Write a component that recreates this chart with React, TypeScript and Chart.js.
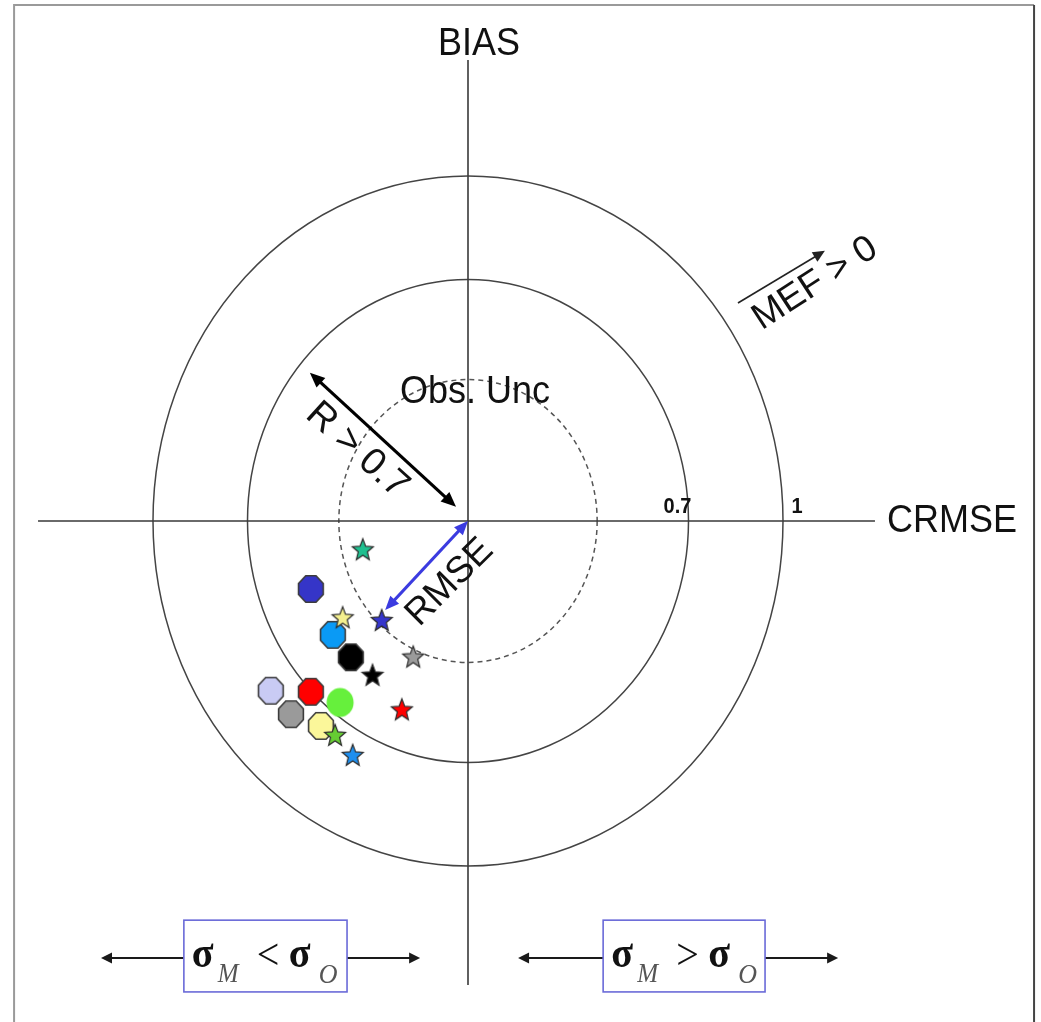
import React, { useEffect, useRef } from "react";
import { Chart, registerables } from "chart.js";

Chart.register(...registerables);

// Normalised target diagram: x = CRMSE (signed by sigma_M - sigma_O), y = BIAS
const octagonCrmse = [-0.499, -0.429, -0.372, -0.626, -0.499, -0.562, -0.467];
const octagonBias = [-0.197, -0.33, -0.395, -0.492, -0.495, -0.56, -0.594];

const discCrmse = [-0.406];
const discBias = [-0.526];

const starCrmse = [-0.334, -0.398, -0.274, -0.174, -0.303, -0.21, -0.422, -0.366];
const starBias = [-0.082, -0.279, -0.287, -0.393, -0.446, -0.546, -0.62, -0.678];

const ringRadii = [0.7, 1];
const ringLabels = ["0.7", "1"];
const obsUncRadius = 0.41;

// Marker colours
const octagonFills = ["#3535c8", "#0a9af5", "#000000", "#c9cbf4", "#ff0000", "#9a9a9a", "#fbf79a"];
const discFills = ["#66f03c"];
const starFills = ["#1fbf8f", "#f4ef8e", "#3636cc", "#9b9b9b", "#000000", "#ff0000", "#66cc33", "#1e8fef"];

const W = 1041;
const H = 1022;
const ORIGIN_X = 468;
const ORIGIN_Y = 521;
const UNIT_X = 315;
const UNIT_Y = 345;

const SANS = "'Liberation Sans', Arial, sans-serif";
const SERIF = "'Liberation Serif', 'Times New Roman', serif";

function makeSprite(w: number, h: number, draw: (g: CanvasRenderingContext2D, cx: number, cy: number) => void) {
  const c = document.createElement("canvas");
  c.width = w;
  c.height = h;
  const g = c.getContext("2d") as CanvasRenderingContext2D;
  draw(g, w / 2, h / 2);
  return c;
}

function octagonSprite(fill: string) {
  return makeSprite(32, 34, (g, cx, cy) => {
    const rx = 13.4;
    const ry = 14.4;
    g.beginPath();
    for (let k = 0; k < 8; k++) {
      const a = Math.PI / 8 + (k * Math.PI) / 4;
      const px = cx + rx * Math.cos(a);
      const py = cy + ry * Math.sin(a);
      if (k === 0) g.moveTo(px, py);
      else g.lineTo(px, py);
    }
    g.closePath();
    g.fillStyle = fill;
    g.fill();
    g.lineWidth = 1.6;
    g.strokeStyle = "#3c3c3c";
    g.stroke();
  });
}

function discSprite(fill: string) {
  return makeSprite(32, 34, (g, cx, cy) => {
    g.beginPath();
    g.ellipse(cx, cy, 13.5, 14.5, 0, 0, Math.PI * 2);
    g.fillStyle = fill;
    g.fill();
  });
}

function starSprite(fill: string) {
  return makeSprite(28, 28, (g, cx, cy) => {
    const R = 11;
    const r = 4.8;
    g.beginPath();
    for (let k = 0; k < 10; k++) {
      const a = -Math.PI / 2 + (k * Math.PI) / 5;
      const rad = k % 2 === 0 ? R : r;
      const px = cx + rad * Math.cos(a);
      const py = cy + 1 + rad * 1.05 * Math.sin(a);
      if (k === 0) g.moveTo(px, py);
      else g.lineTo(px, py);
    }
    g.closePath();
    g.fillStyle = fill;
    g.fill();
    g.lineWidth = 1.2;
    g.lineJoin = "miter";
    g.strokeStyle = "#2a2a2a";
    g.stroke();
  });
}

function drawLabel(
  ctx: CanvasRenderingContext2D,
  text: string,
  x: number,
  y: number,
  font: string,
  opts: { align?: CanvasTextAlign; baseline?: CanvasTextBaseline; angle?: number; stretch?: number; color?: string } = {}
) {
  const { align = "center", baseline = "middle", angle = 0, stretch = 1.09, color = "#111" } = opts;
  ctx.save();
  ctx.translate(x, y);
  ctx.rotate((angle * Math.PI) / 180);
  ctx.scale(1, stretch);
  ctx.font = font;
  ctx.textAlign = align;
  ctx.textBaseline = baseline;
  ctx.fillStyle = color;
  ctx.fillText(text, 0, 0);
  ctx.restore();
}

function arrowHead(ctx: CanvasRenderingContext2D, fx: number, fy: number, tx: number, ty: number, len: number, half: number) {
  const a = Math.atan2(ty - fy, tx - fx);
  const bx = tx - len * Math.cos(a);
  const by = ty - len * Math.sin(a);
  ctx.beginPath();
  ctx.moveTo(tx, ty);
  ctx.lineTo(bx + half * Math.sin(a), by - half * Math.cos(a));
  ctx.lineTo(bx - half * Math.sin(a), by + half * Math.cos(a));
  ctx.closePath();
  ctx.fill();
}

function drawArrow(
  ctx: CanvasRenderingContext2D,
  x1: number,
  y1: number,
  x2: number,
  y2: number,
  o: { width: number; color: string; both: boolean; len: number; half: number }
) {
  const a = Math.atan2(y2 - y1, x2 - x1);
  const sx = o.both ? x1 + (o.len - 2) * Math.cos(a) : x1;
  const sy = o.both ? y1 + (o.len - 2) * Math.sin(a) : y1;
  const ex = x2 - (o.len - 2) * Math.cos(a);
  const ey = y2 - (o.len - 2) * Math.sin(a);
  ctx.save();
  ctx.strokeStyle = o.color;
  ctx.fillStyle = o.color;
  ctx.lineWidth = o.width;
  ctx.beginPath();
  ctx.moveTo(sx, sy);
  ctx.lineTo(ex, ey);
  ctx.stroke();
  arrowHead(ctx, x1, y1, x2, y2, o.len, o.half);
  if (o.both) arrowHead(ctx, x2, y2, x1, y1, o.len, o.half);
  ctx.restore();
}

function sigmaBox(
  ctx: CanvasRenderingContext2D,
  left: number,
  right: number,
  top: number,
  bottom: number,
  tipL: number,
  tipR: number,
  arrowY: number,
  relation: string
) {
  const head = { width: 2, color: "#1a1a1a", both: false, len: 11, half: 5.5 };
  drawArrow(ctx, left, arrowY, tipL, arrowY, head);
  drawArrow(ctx, right, arrowY, tipR, arrowY, head);
  ctx.save();
  ctx.fillStyle = "#ffffff";
  ctx.fillRect(left, top, right - left, bottom - top);
  ctx.strokeStyle = "#6a6ad8";
  ctx.lineWidth = 1.6;
  ctx.strokeRect(left, top, right - left, bottom - top);
  ctx.restore();
  const base = top + 47;
  drawLabel(ctx, "\u03c3", left + 8, base, `bold 40px ${SERIF}`, { align: "left", baseline: "alphabetic" });
  drawLabel(ctx, "M", left + 34, base + 15, `italic 25px ${SERIF}`, { align: "left", baseline: "alphabetic", color: "#555" });
  drawLabel(ctx, relation, left + 73, base + 2, `40px ${SERIF}`, { align: "left", baseline: "alphabetic" });
  drawLabel(ctx, "\u03c3", left + 105, base, `bold 40px ${SERIF}`, { align: "left", baseline: "alphabetic" });
  drawLabel(ctx, "O", left + 135, base + 16, `italic 26px ${SERIF}`, { align: "left", baseline: "alphabetic", color: "#555" });
}

const targetPlugin = {
  id: "targetDiagram",
  beforeDraw(chart: any) {
    const { ctx } = chart;
    ctx.save();
    ctx.fillStyle = "#ffffff";
    ctx.fillRect(0, 0, chart.width, chart.height);
    ctx.restore();
  },
  beforeDatasetsDraw(chart: any) {
    const { ctx } = chart;
    const xs = chart.scales.x;
    const ys = chart.scales.y;
    const px = (v: number) => xs.getPixelForValue(v);
    const py = (v: number) => ys.getPixelForValue(v);
    const cx = px(0);
    const cy = py(0);

    ctx.save();
    // figure frame
    ctx.lineWidth = 2;
    ctx.strokeStyle = "#9a9a9a";
    ctx.beginPath();
    ctx.moveTo(px(-1.441), py(-1.6));
    ctx.lineTo(px(-1.441), py(1.496));
    ctx.lineTo(px(1.797), py(1.496));
    ctx.stroke();
    ctx.strokeStyle = "#444";
    ctx.beginPath();
    ctx.moveTo(px(1.797), py(1.496));
    ctx.lineTo(px(1.797), py(-1.6));
    ctx.stroke();

    // solid rings
    ctx.strokeStyle = "#444";
    ctx.lineWidth = 1.5;
    ringRadii.forEach((r) => {
      ctx.beginPath();
      ctx.ellipse(cx, cy, px(r) - cx, cy - py(r), 0, 0, Math.PI * 2);
      ctx.stroke();
    });

    // observation uncertainty ring
    ctx.setLineDash([5, 4]);
    ctx.strokeStyle = "#555";
    ctx.beginPath();
    ctx.ellipse(cx, cy, px(obsUncRadius) - cx, cy - py(obsUncRadius), 0, 0, Math.PI * 2);
    ctx.stroke();
    ctx.setLineDash([]);

    // axes
    ctx.strokeStyle = "#3a3a3a";
    ctx.lineWidth = 1.6;
    ctx.beginPath();
    ctx.moveTo(px(-1.365), cy);
    ctx.lineTo(px(1.292), cy);
    ctx.moveTo(cx, py(1.336));
    ctx.lineTo(cx, py(-1.345));
    ctx.stroke();
    ctx.restore();

    // axis titles and ring labels
    drawLabel(ctx, "BIAS", px(0.035), py(1.383), `36px ${SANS}`);
    drawLabel(ctx, "CRMSE", px(1.33), cy, `36px ${SANS}`, { align: "left" });
    drawLabel(ctx, "Obs. Unc", px(0.022), py(0.374), `36px ${SANS}`);
    ringLabels.forEach((t, i) => {
      const offset = i === 0 ? -11 : 14;
      drawLabel(ctx, t, px(ringRadii[i]) + offset, cy - 8, `bold 20px ${SANS}`, { baseline: "alphabetic" });
    });

    // spread annotations
    sigmaBox(ctx, px(-0.902), px(-0.384), py(-1.157), py(-1.365), px(-1.165), px(-0.152), py(-1.267), "<");
    sigmaBox(ctx, px(0.429), px(0.943), py(-1.157), py(-1.365), px(0.159), px(1.175), py(-1.267), ">");
  },
  afterDatasetsDraw(chart: any) {
    const { ctx } = chart;
    const xs = chart.scales.x;
    const ys = chart.scales.y;
    const px = (v: number) => xs.getPixelForValue(v);
    const py = (v: number) => ys.getPixelForValue(v);

    // correlation arrow
    drawArrow(ctx, px(-0.038), py(0.041), px(-0.502), py(0.43), { width: 3.2, color: "#000", both: true, len: 15, half: 6.5 });
    drawLabel(ctx, "R > 0.7", px(-0.352), py(0.205), `38px ${SANS}`, { angle: 42, stretch: 1 });

    // RMSE arrow
    drawArrow(ctx, px(0), py(0), px(-0.263), py(-0.258), { width: 3.2, color: "#3b3be0", both: true, len: 14, half: 6 });
    drawLabel(ctx, "RMSE", px(-0.058), py(-0.178), `37px ${SANS}`, { angle: -45, stretch: 1 });

    // model efficiency arrow
    drawArrow(ctx, px(0.857), py(0.632), px(1.133), py(0.783), { width: 1.6, color: "#222", both: false, len: 12, half: 5.5 });
    drawLabel(ctx, "MEF > 0", px(1.102), py(0.688), `37px ${SANS}`, { angle: -33, stretch: 1 });
  },
};

export default function App() {
  const ref = useRef<HTMLCanvasElement>(null);

  useEffect(() => {
    if (!ref.current) return;
    const octSprites = octagonFills.map(octagonSprite);
    const discSprites = discFills.map(discSprite);
    const starSprites = starFills.map(starSprite);

    const chart = new Chart(ref.current, {
      type: "scatter",
      data: {
        datasets: [
          {
            label: "stars",
            data: starCrmse.map((v, i) => ({ x: v, y: starBias[i] })),
            pointStyle: (c: any) => starSprites[c.dataIndex],
            pointRadius: 11,
          },
          {
            label: "discs",
            data: discCrmse.map((v, i) => ({ x: v, y: discBias[i] })),
            pointStyle: (c: any) => discSprites[c.dataIndex],
            pointRadius: 13,
          },
          {
            label: "octagons",
            data: octagonCrmse.map((v, i) => ({ x: v, y: octagonBias[i] })),
            pointStyle: (c: any) => octSprites[c.dataIndex],
            pointRadius: 13,
          },
        ],
      },
      options: {
        responsive: false,
        maintainAspectRatio: false,
        animation: false,
        devicePixelRatio: 1,
        events: [],
        layout: { padding: 0, autoPadding: false },
        plugins: { legend: { display: false }, tooltip: { enabled: false } },
        scales: {
          x: { type: "linear", display: false, min: -ORIGIN_X / UNIT_X, max: (W - ORIGIN_X) / UNIT_X },
          y: { type: "linear", display: false, min: -(H - ORIGIN_Y) / UNIT_Y, max: ORIGIN_Y / UNIT_Y },
        },
      },
      plugins: [targetPlugin],
    } as any);

    return () => chart.destroy();
  }, []);

  return (
    <div style={{ position: "absolute", left: 0, top: 0, width: W, height: H }}>
      <canvas ref={ref} width={W} height={H} style={{ display: "block", width: W, height: H }} />
    </div>
  );
}
